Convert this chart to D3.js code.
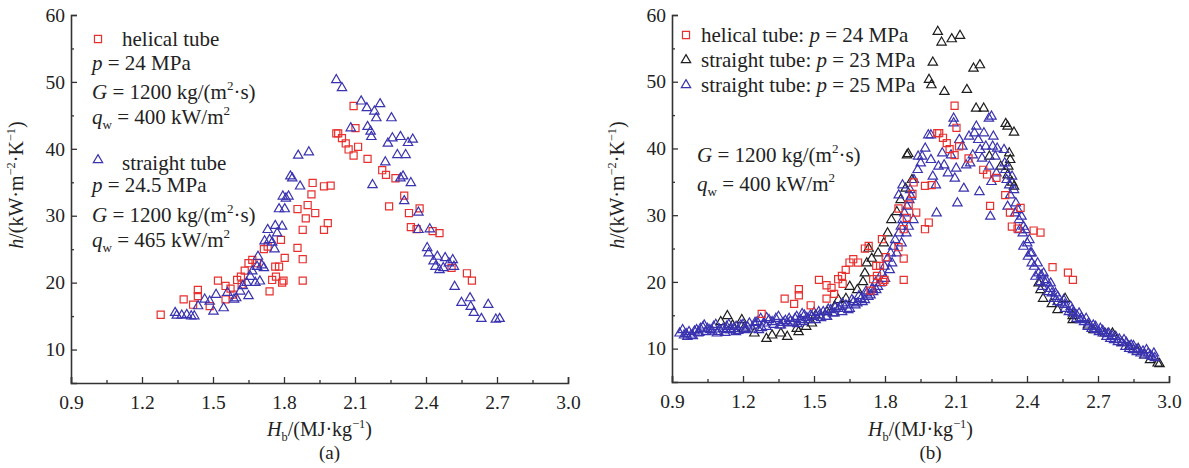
<!DOCTYPE html>
<html><head><meta charset="utf-8">
<script src="https://cdn.jsdelivr.net/npm/d3@7"></script>
<style>
body{margin:0;background:#fff;}
svg text{font-family:"Liberation Serif","Times New Roman","DejaVu Serif",serif;}
</style></head>
<body><svg id="c" width="1189" height="468"></svg>
<script>
// ---------- DATA ----------
const xTicks = [0.9, 1.2, 1.5, 1.8, 2.1, 2.4, 2.7, 3.0];
const yTicks = [10, 20, 30, 40, 50, 60];

// helical tube, p = 24 MPa (same series in both panels)
const helicalX = [1.279,1.376,1.416,1.436,1.436,1.486,1.521,1.553,1.553,1.574,1.585,1.602,1.618,1.621,1.634,1.650,1.666,1.686,1.715,1.731,1.739,1.750,1.763,1.766,1.779,1.787,1.792,1.798,1.803,1.857,1.857,1.879,1.879,1.879,1.900,1.892,1.916,1.921,1.932,1.969,1.969,1.985,1.997,2.021,2.029,2.045,2.061,2.073,2.094,2.094,2.102,2.113,2.153,2.215,2.231,2.244,2.271,2.308,2.328,2.336,2.360,2.373,2.428,2.457,2.573,2.594,2.508];
const helicalY = [15.2,17.5,16.7,18.9,18.0,16.5,20.3,19.5,17.5,19.1,18.2,20.4,20.9,19.7,21.8,22.9,23.4,22.9,25.0,25.4,18.7,20.4,22.4,20.9,22.4,26.4,20.0,20.3,23.7,31.0,25.2,27.9,23.5,20.3,31.6,29.6,33.2,34.9,30.4,34.4,27.9,28.9,34.5,42.3,42.3,41.6,40.8,39.9,46.4,39.0,43.1,40.3,38.5,36.8,36.1,31.4,35.6,33.0,30.4,28.3,28.0,31.1,27.7,27.4,21.4,20.3,22.2];

// straight tube, p = 24.5 MPa, qw = 465 (panel a)
const straightAX = [1.340,1.347,1.368,1.389,1.408,1.421,1.437,1.465,1.486,1.502,1.513,1.545,1.561,1.589,1.598,1.615,1.626,1.642,1.650,1.658,1.666,1.679,1.686,1.690,1.698,1.706,1.715,1.718,1.731,1.739,1.750,1.760,1.763,1.771,1.792,1.779,1.795,1.803,1.808,1.819,1.827,1.835,1.860,1.868,1.905,2.021,2.045,2.082,2.126,2.150,2.153,2.166,2.169,2.182,2.190,2.206,2.174,2.228,2.239,2.254,2.258,2.279,2.292,2.292,2.303,2.308,2.314,2.324,2.336,2.344,2.368,2.368,2.416,2.405,2.411,2.432,2.440,2.448,2.457,2.473,2.481,2.497,2.513,2.518,2.521,2.550,2.586,2.589,2.602,2.634,2.663,2.695,2.711];
const straightAY = [15.5,15.1,15.1,15.2,15.0,15.0,16.5,17.5,17.2,15.7,18.2,16.2,18.5,17.5,17.7,18.7,19.5,20.0,18.0,20.9,21.7,20.0,22.4,23.9,20.2,22.6,22.2,26.2,27.9,26.4,26.0,25.0,28.5,27.4,28.4,31.0,32.9,31.0,32.6,32.9,35.9,35.6,39.0,34.4,39.5,50.3,49.1,43.1,47.1,46.1,43.3,42.6,41.8,45.6,44.6,46.7,34.6,38.0,40.8,44.6,41.6,39.1,41.8,35.6,35.9,32.2,39.1,40.9,34.9,41.4,30.5,27.9,28.0,25.2,24.4,23.2,22.4,23.9,21.9,22.2,23.7,22.9,23.4,22.4,19.4,17.0,17.7,16.4,15.5,14.6,16.7,14.5,14.6];

// straight tube, p = 23 MPa (panel b, black)
const s23X = [2.023,2.039,2.082,2.117,2.002,2.174,2.201,1.986,1.996,2.051,2.146,2.185,2.217,2.310,2.318,2.345,1.898,1.893,2.325,2.329,2.321,2.337,2.345,2.318,2.241,2.289,2.449,2.457,2.468,2.505,2.561,2.593,2.657,2.729,2.761,2.801,2.864,2.920,2.952,2.960,2.529,2.593,2.681,2.832,2.896,1.106,1.134,1.195,1.248,1.299,1.323,1.360,1.387,1.435,1.467,1.507,1.555,1.587,1.635,1.683,1.707,1.715,1.723,1.731,1.744,1.771,1.795,1.811,1.827,1.850,1.866,1.887,1.914,1.651,1.603,1.491,1.427,1.203,1.156];
const s23Y = [57.5,55.9,56.4,56.9,52.9,52.0,52.5,50.3,49.5,48.5,48.8,46.0,46.0,43.7,43.3,42.4,39.2,39.0,39.3,38.3,37.3,34.9,34.3,36.0,38.8,37.3,19.8,18.8,17.5,16.7,17.5,14.9,13.5,12.3,12.3,10.9,9.8,8.3,7.8,7.7,15.8,14.3,12.8,10.3,9.0,14.0,14.9,14.3,12.3,11.5,12.0,12.3,11.8,12.5,13.3,15.0,15.5,16.3,17.5,18.8,20.0,21.3,22.8,25.0,23.5,24.3,25.8,27.3,29.3,30.5,32.3,34.0,35.3,19.3,17.3,13.8,13.0,13.0,13.5];

// straight tube, p = 25 MPa (panel b, blue)
const s25X = [0.932,0.951,0.972,0.988,1.004,1.020,1.036,1.060,1.076,1.095,1.116,1.131,1.148,1.171,1.191,1.211,1.227,1.251,1.267,1.275,1.299,1.323,1.339,1.360,1.379,1.395,1.411,1.427,1.443,1.459,1.475,1.491,1.507,1.523,1.539,1.555,1.571,1.587,1.603,1.619,1.635,1.651,1.667,1.683,1.699,1.715,1.723,1.739,1.747,1.763,1.779,1.787,1.798,1.811,1.824,1.835,1.843,1.859,1.867,1.874,1.882,1.893,1.903,1.858,1.874,1.906,1.922,1.938,1.951,1.957,1.970,1.983,1.994,2.015,2.002,2.018,2.026,2.042,2.050,2.066,2.079,2.090,2.095,2.101,2.106,2.114,2.127,2.133,2.143,2.155,2.160,2.171,2.178,2.186,2.194,2.199,2.202,2.210,2.218,2.226,2.239,2.241,2.245,2.250,2.255,2.258,2.266,2.271,2.274,2.303,2.306,2.309,2.314,2.318,2.325,2.329,2.337,2.345,2.353,2.361,2.366,2.369,2.377,2.382,2.385,2.393,2.401,2.404,2.414,2.420,2.430,2.436,2.449,2.457,2.465,2.478,2.489,2.505,2.513,2.529,2.545,2.561,2.577,2.593,2.609,2.625,2.641,2.657,2.673,2.689,2.704,2.720,2.736,2.752,2.768,2.784,2.800,2.816,2.832,2.848,2.864,2.880,2.896,2.912,2.928,2.936,1.994,2.090,2.250,1.940,1.910,1.730,1.750,1.770,1.800,1.820,1.830,1.850,1.870,1.890,1.900,1.920,2.350,2.385,2.410,2.420,2.445,2.470,2.500,2.520,2.555,2.585,2.620,2.650,2.680,2.710,2.745,2.775,2.810,2.840,2.870,2.905,0.965,1.010,1.045,1.090,1.130,1.170,1.210,1.250,1.290,1.310,1.355,1.390,1.420,1.455,1.485,1.520,1.550,1.580,1.610,1.645,1.675,1.705,
  0.945,0.960,0.980,0.995,1.015,1.030,1.050,1.070,1.085,1.100,1.125,1.140,1.160,1.180,1.200,1.220,1.240,1.260,1.280,1.300,1.330,1.350,1.370,1.400,1.430,1.450,1.470,1.500,1.530,1.560,1.590,1.620,1.660,1.690,1.720,1.760,
  2.460,2.480,2.500,2.530,2.560,2.590,2.610,2.630,2.660,2.690,2.720,2.740,2.760,2.790,2.820,2.850,2.870,2.890,2.920,2.940];
const s25Y = [12.3,12.0,12.5,11.9,12.8,13.0,13.5,12.8,13.3,12.5,13.0,13.3,12.8,13.3,13.5,13.0,13.8,13.9,12.8,14.5,13.3,14.0,14.5,13.5,14.2,14.5,13.9,14.8,14.3,15.0,14.3,14.8,14.3,15.0,15.5,14.8,15.8,15.3,16.0,15.5,16.5,16.0,17.0,16.8,17.5,17.3,18.3,18.0,19.0,18.8,19.8,21.3,22.3,23.5,24.3,25.3,26.3,27.3,28.3,29.3,30.3,31.3,32.3,33.0,34.5,33.8,35.3,36.8,37.8,38.8,40.0,42.0,38.3,34.5,35.8,30.3,37.3,39.3,37.5,36.3,39.0,43.8,35.5,37.0,31.8,41.3,40.3,34.0,37.5,41.8,37.8,39.0,42.3,43.3,41.3,33.5,39.8,38.5,42.3,40.3,44.5,37.3,29.8,35.0,40.3,41.8,38.8,36.3,40.0,39.8,37.8,36.8,35.3,31.3,34.5,33.0,35.8,33.8,31.8,30.8,29.3,27.8,29.8,27.3,25.3,27.8,25.8,23.8,24.3,22.8,22.3,20.8,21.3,20.0,19.3,19.8,18.5,18.3,17.5,17.0,16.8,16.0,15.5,15.3,14.5,14.3,14.0,13.3,13.0,12.8,12.5,12.3,11.8,11.5,11.3,11.0,10.8,10.3,10.0,9.8,9.5,9.3,9.0,9.3,8.8,9.3,42.0,44.5,44.8,38.8,32.8,17.8,18.5,19.3,20.5,21.8,22.8,24.3,25.8,27.3,28.3,29.3,30.3,28.3,26.3,24.3,22.8,21.3,19.8,18.3,17.3,16.3,15.3,14.5,13.5,13.0,12.3,11.8,11.3,10.5,10.0,9.8,11.8,12.3,12.5,12.3,12.8,12.5,12.8,13.5,13.8,14.3,13.5,13.8,14.5,14.0,15.0,15.5,14.8,15.3,16.3,15.8,16.5,17.0,
  12.8,12.2,12.0,12.6,12.4,13.2,13.0,12.6,13.6,12.9,12.4,13.6,13.0,12.7,13.6,13.2,12.9,14.0,13.1,14.6,13.6,14.8,13.9,14.1,13.7,15.2,14.6,15.4,14.6,15.9,16.2,16.8,17.3,17.9,18.6,19.9,
  21.0,20.3,19.0,17.8,16.6,15.8,15.0,14.6,13.8,13.3,12.7,12.2,11.9,11.4,10.9,10.4,9.9,9.6,9.0,8.6];

// ---------- STYLE ----------
const RED = "#e8302e", BLUE = "#3a33b0", BLACK = "#1e1e1e", AXIS = "#333";
const FONT = '"Liberation Serif","Times New Roman","DejaVu Serif",serif';
const svg = d3.select("#c");

function rich(sel, x, y, segs, fs, anchor) {
  const t = sel.append("text").attr("x", x).attr("y", y)
    .attr("font-family", FONT).style("font-family", FONT)
    .style("font-size", fs + "px").attr("fill", "#222")
    .attr("text-anchor", anchor || "start");
  let shift = 0;
  segs.forEach(s => {
    const ts = t.append("tspan").text(s.t);
    const target = s.sup ? -0.42 * fs : s.sub ? 0.25 * fs : 0;
    if (target - shift !== 0) ts.attr("dy", target - shift);
    shift = target;
    if (s.sup || s.sub) ts.style("font-size", (fs * 0.62) + "px");
    if (s.i) ts.style("font-style", "italic");
  });
  return t;
}

const sqSym = d3.symbol().type(d3.symbolSquare).size(50);
const triSym = d3.symbol().type(d3.symbolTriangle).size(38);

function panel(left, right, top, bottom, tag, yTitleX) {
  const x = d3.scaleLinear().domain([0.9, 3.0]).range([left, right]);
  const y = d3.scaleLinear().domain([5, 60]).range([bottom, top]);
  const g = svg.append("g");
  const xMinor = d3.range(1.05, 3.0, 0.3);
  const yMinor = d3.range(15, 60, 10);
  g.append("g").attr("transform", `translate(0,${bottom})`)
    .call(d3.axisBottom(x).tickValues(xTicks).tickSize(-6).tickPadding(12).tickFormat(d3.format(".1f")));
  g.append("g").attr("transform", `translate(0,${bottom})`)
    .call(d3.axisBottom(x).tickValues(xMinor).tickSize(-3).tickFormat(""))
    .select(".domain").remove();
  g.append("g").attr("transform", `translate(${left},0)`)
    .call(d3.axisLeft(y).tickValues(yTicks).tickSize(-6).tickPadding(6));
  g.append("g").attr("transform", `translate(${left},0)`)
    .call(d3.axisLeft(y).tickValues(yMinor).tickSize(-3).tickFormat(""))
    .select(".domain").remove();
  g.selectAll("g").attr("font-family", FONT);
  g.selectAll(".domain").attr("stroke", AXIS).attr("stroke-width", 1.6);
  g.selectAll(".tick line").attr("stroke", AXIS).attr("stroke-width", 1.3);
  g.selectAll(".tick text").attr("fill", "#222")
    .attr("font-family", FONT).style("font-family", FONT).style("font-size", "19.5px");
  const cx = (left + right) / 2;
  rich(g, cx, 436, [{t: "H", i: 1}, {t: "b", sub: 1}, {t: "/(MJ·kg"}, {t: "−1", sup: 1}, {t: ")"}], 20, "middle");
  rich(g, cx + 10, 459, [{t: tag}], 19, "middle");
  const yt = rich(g, 0, 0, [{t: "h", i: 1}, {t: "/(kW·m"}, {t: "−2", sup: 1}, {t: "·K"}, {t: "−1", sup: 1}, {t: ")"}], 20, "middle");
  yt.attr("transform", `translate(${yTitleX},185) rotate(-90)`);
  return {g, x, y};
}

function points(p, xs, ys, sym, color) {
  p.g.append("g").selectAll("path").data(xs.map((d, i) => [d, ys[i]])).join("path")
    .attr("d", sym).attr("transform", d => `translate(${p.x(d[0])},${p.y(d[1])})`)
    .attr("fill", "none").attr("stroke", color).attr("stroke-width", 1.2);
}

// ----- panel (a) -----
const A = panel(71, 568, 15, 383, "(a)", 23);
points(A, helicalX, helicalY, sqSym, RED);
points(A, straightAX, straightAY, triSym, BLUE);
const la = A.g.append("g");
la.append("path").attr("d", sqSym).attr("transform", "translate(98,39)").attr("fill", "none").attr("stroke", RED).attr("stroke-width", 1.2);
rich(la, 122, 46, [{t: "helical tube"}], 21);
rich(la, 92, 70, [{t: "p", i: 1}, {t: " = 24 MPa"}], 21);
rich(la, 92, 99, [{t: "G", i: 1}, {t: " = 1200 kg/(m"}, {t: "2", sup: 1}, {t: "·s)"}], 21);
rich(la, 92, 124, [{t: "q", i: 1}, {t: "w", sub: 1}, {t: " = 400 kW/m"}, {t: "2", sup: 1}], 21);
la.append("path").attr("d", triSym).attr("transform", "translate(98,160)").attr("fill", "none").attr("stroke", BLUE).attr("stroke-width", 1.2);
rich(la, 122, 170, [{t: "straight tube"}], 21);
rich(la, 92, 192, [{t: "p", i: 1}, {t: " = 24.5 MPa"}], 21);
rich(la, 92, 222, [{t: "G", i: 1}, {t: " = 1200 kg/(m"}, {t: "2", sup: 1}, {t: "·s)"}], 21);
rich(la, 92, 247, [{t: "q", i: 1}, {t: "w", sub: 1}, {t: " = 465 kW/m"}, {t: "2", sup: 1}], 21);

// ----- panel (b) -----
const B = panel(672, 1169, 15, 382, "(b)", 624);
points(B, s23X, s23Y, triSym, BLACK);
points(B, s25X, s25Y, triSym, BLUE);
points(B, helicalX, helicalY, sqSym, RED);
const lb = B.g.append("g");
lb.append("path").attr("d", sqSym).attr("transform", "translate(686,35)").attr("fill", "none").attr("stroke", RED).attr("stroke-width", 1.2);
rich(lb, 701, 42, [{t: "helical tube:  "}, {t: "p", i: 1}, {t: " = 24 MPa"}], 21);
lb.append("path").attr("d", triSym).attr("transform", "translate(686,60)").attr("fill", "none").attr("stroke", BLACK).attr("stroke-width", 1.2);
rich(lb, 701, 67, [{t: "straight tube: "}, {t: "p", i: 1}, {t: " = 23 MPa"}], 21);
lb.append("path").attr("d", triSym).attr("transform", "translate(686,85)").attr("fill", "none").attr("stroke", BLUE).attr("stroke-width", 1.2);
rich(lb, 701, 92, [{t: "straight tube: "}, {t: "p", i: 1}, {t: " = 25 MPa"}], 21);
rich(lb, 697, 162, [{t: "G", i: 1}, {t: " = 1200 kg/(m"}, {t: "2", sup: 1}, {t: "·s)"}], 21);
rich(lb, 697, 191, [{t: "q", i: 1}, {t: "w", sub: 1}, {t: " = 400 kW/m"}, {t: "2", sup: 1}], 21);
</script></body></html>
